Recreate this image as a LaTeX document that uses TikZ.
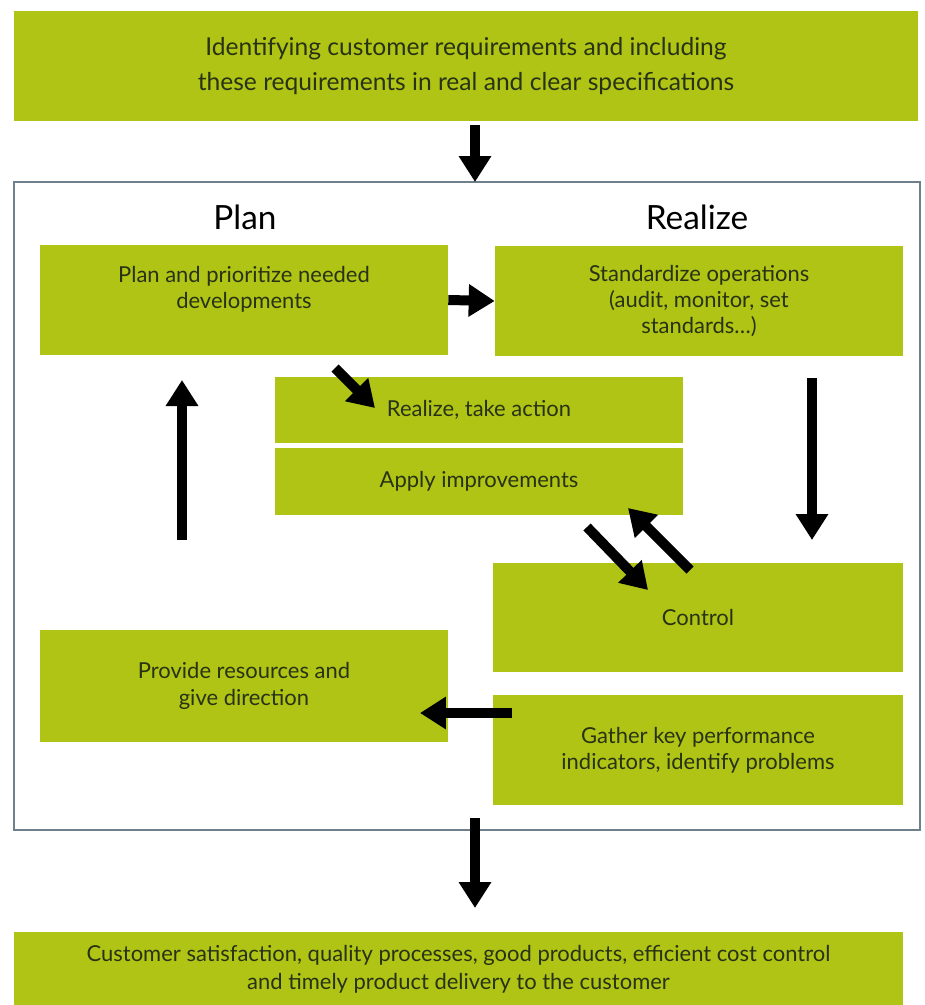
\documentclass[tikz,border=0pt]{standalone}
\usepackage{fontspec}
\setmainfont{Lato}
\usepackage{tikz}
\definecolor{limegreen}{RGB}{176, 196, 22}
\definecolor{framegray}{RGB}{110, 128, 140}
\definecolor{textdark}{RGB}{40, 50, 20}
\usetikzlibrary{arrows.meta, calc, positioning}

\tikzset{
	greenbox/.style={fill=limegreen, text=textdark, align=center, inner sep=0pt, font=\fontsize{12.5}{15}\selectfont},
	bigarrow/.style={line width=0.2cm, -{Triangle[width=0.62cm, length=0.52cm]}},
	heading/.style={font=\fontsize{19}{22}\selectfont, text=black}
}

\begin{document}
\begin{tikzpicture}[x=0.02cm, y=-0.02cm]
	
	% Canvas
	\useasboundingbox (0,0) rectangle (925,1005);
	
	% Outer boxes
	\node[greenbox, minimum width=18.08cm, minimum height=2.2cm, font=\fontsize{14}{20}\selectfont] (ident) at (466,66)
		{Identifying customer requirements and including\\these requirements in real and clear specifications};
	\node[draw=framegray, line width=1pt, minimum width=18.12cm, minimum height=12.96cm] (frame) at (467,506) {};
	\node[greenbox, minimum width=17.78cm, minimum height=1.5cm, font=\fontsize{12.5}{16}\selectfont] (result) at (458.5,969)
		{Customer satisfaction, quality processes, good products, efficient cost control\\and timely product delivery to the customer};
	
	% Headings
	\node[heading] (planlbl) at (245,217) {Plan};
	\node[heading] (realizelbl) at (697,217) {Realize};
	
	% Inner boxes
	\node[greenbox, minimum width=8.16cm, minimum height=2.2cm] (plan) at (244,300) {};
	\node[text=textdark, align=center, font=\fontsize{12.5}{15}\selectfont] (plantxt) at (244,289) {Plan and prioritize needed\\developments};
	\node[greenbox, minimum width=8.16cm, minimum height=2.2cm] (standard) at (699,301)
		{Standardize operations\\(audit, monitor, set\\standards\ldots)};
	\node[greenbox, minimum width=8.16cm, minimum height=1.32cm] (action) at (479,410) {Realize, take action};
	\node[greenbox, minimum width=8.16cm, minimum height=1.34cm] (improve) at (479,481.5) {Apply improvements};
	\node[greenbox, minimum width=8.2cm, minimum height=2.18cm] (control) at (698,617.5) {Control};
	\node[greenbox, minimum width=8.2cm, minimum height=2.2cm] (gather) at (698,750)
		{Gather key performance\\indicators, identify problems};
	\node[greenbox, minimum width=8.16cm, minimum height=2.24cm] (provide) at (244,686)
		{Provide resources and\\give direction};
	
	% Arrow ends
	\coordinate (topS) at (475,125);
	\coordinate (topE) at (475,182);
	\coordinate (diagS) at (335,368);
	\coordinate (diagE) at (375,408);
	\coordinate (upS) at (182,540);
	\coordinate (upE) at (182,380);
	\coordinate (downS) at (812,378);
	\coordinate (downE) at (812,540);
	\coordinate (toCtrlS) at (587,527);
	\coordinate (toCtrlE) at (648,590);
	\coordinate (fromCtrlS) at (690,570);
	\coordinate (fromCtrlE) at (628,508);
	\coordinate (leftS) at (512,713);
	\coordinate (leftE) at (420,713);
	\coordinate (botS) at (475,818);
	\coordinate (botE) at (475,908);
	
	% Arrows
	\draw[bigarrow] (topS) -- (topE);
	\draw[bigarrow] (plan.east) -- (standard.west);
	\draw[bigarrow] (diagS) -- (diagE);
	\draw[bigarrow] (upS) -- (upE);
	\draw[bigarrow] (downS) -- (downE);
	\draw[bigarrow] (toCtrlS) -- (toCtrlE);
	\draw[bigarrow] (fromCtrlS) -- (fromCtrlE);
	\draw[bigarrow] (leftS) -- (leftE);
	\draw[bigarrow] (botS) -- (botE);
	
\end{tikzpicture}
\end{document}
